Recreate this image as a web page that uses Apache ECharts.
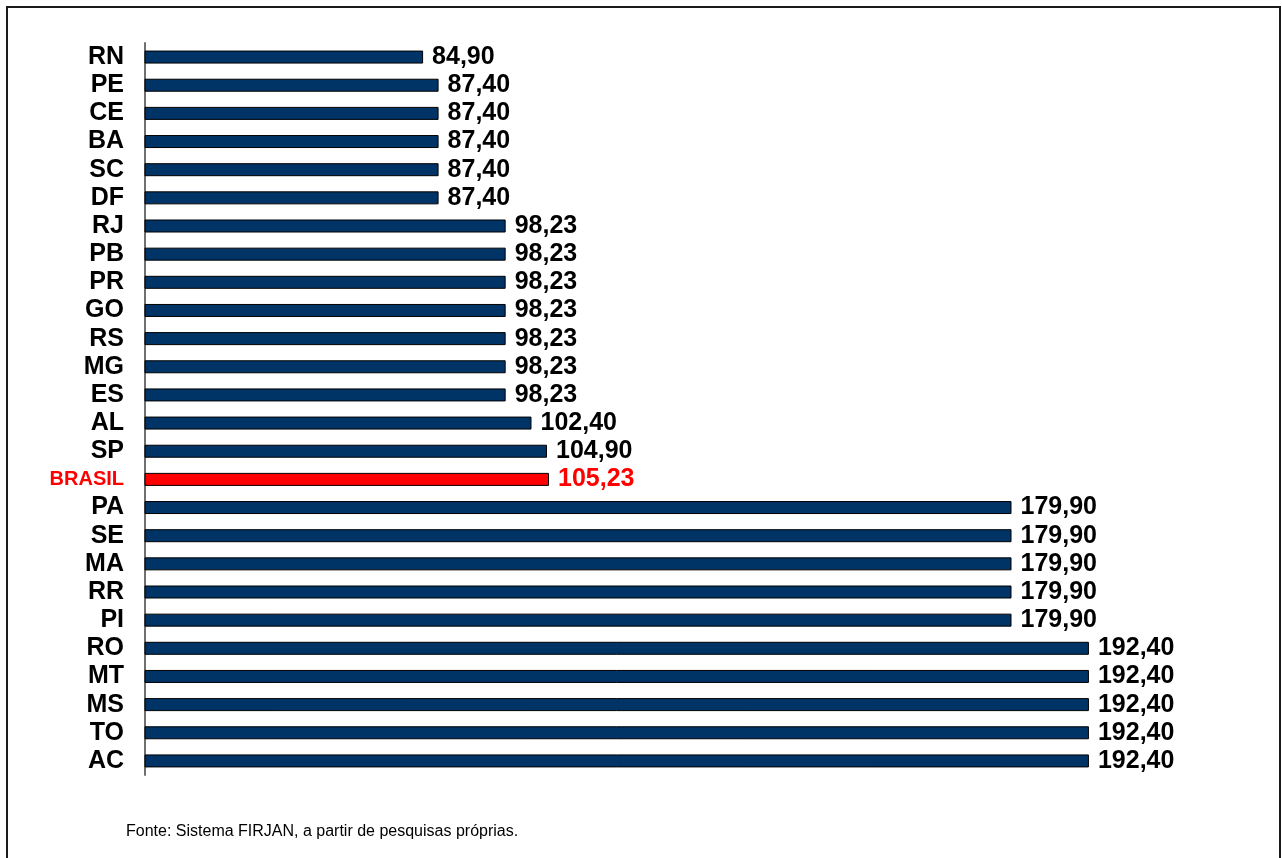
<!DOCTYPE html>
<html>
<head>
<meta charset="utf-8">
<script src="https://cdn.jsdelivr.net/npm/echarts@6/dist/echarts.min.js"></script>
<style>
html,body{margin:0;padding:0;background:#fff;}
#chart{width:1282px;height:858px;}
</style>
</head>
<body>
<div id="chart"></div>
<script>
const categories = ['RN','PE','CE','BA','SC','DF','RJ','PB','PR','GO','RS','MG','ES','AL','SP','BRASIL','PA','SE','MA','RR','PI','RO','MT','MS','TO','AC'];
const values = [84.90,87.40,87.40,87.40,87.40,87.40,98.23,98.23,98.23,98.23,98.23,98.23,98.23,102.40,104.90,105.23,179.90,179.90,179.90,179.90,179.90,192.40,192.40,192.40,192.40,192.40];
const highlight = 'BRASIL';
const sourceText = 'Fonte: Sistema FIRJAN, a partir de pesquisas próprias.';

const chart = echarts.init(document.getElementById('chart'));
const fmt = v => v.toFixed(2).replace('.', ',');
chart.setOption({
  animation: false,
  backgroundColor: '#fff',
  grid: {left: 145, right: 146, top: 43, bottom: 83, containLabel: false},
  xAxis: {
    type: 'value', min: 40, max: 200, show: false
  },
  yAxis: {
    type: 'category', data: categories, inverse: true,
    axisLine: {show: true, lineStyle: {color: '#707070', width: 2}},
    axisTick: {show: false},
    splitLine: {show: false},
    axisLabel: {
      interval: 0,
      margin: 21,
      fontFamily: 'Liberation Sans, Arial, sans-serif',
      fontWeight: 'bold', fontSize: 25, color: '#000',
      rich: {
        br: {fontFamily: 'Liberation Sans, Arial, sans-serif', fontWeight: 'bold', fontSize: 20, color: '#ff0000'}
      },
      formatter: v => v === highlight ? '{br|' + v + '}' : v
    }
  },
  series: [{
    type: 'bar',
    barWidth: 13,
    data: values.map((v, i) => ({
      value: v,
      itemStyle: {color: categories[i] === highlight ? '#ff0000' : '#003366', borderColor: '#000', borderWidth: 1},
      label: {color: categories[i] === highlight ? '#ff0000' : '#000'}
    })),
    label: {
      show: true, position: 'right', distance: 9,
      fontFamily: 'Liberation Sans, Arial, sans-serif',
      fontWeight: 'bold', fontSize: 25,
      formatter: p => fmt(p.value)
    }
  }],
  graphic: [
    {type: 'rect', shape: {x: 7, y: 7, width: 1273, height: 860}, style: {fill: 'none', stroke: '#1a1a1a', lineWidth: 2}},
    {type: 'text', left: 126, top: 824, style: {text: sourceText, font: '16px "Liberation Sans", Arial, sans-serif', fill: '#000'}}
  ]
});
</script>
</body>
</html>
